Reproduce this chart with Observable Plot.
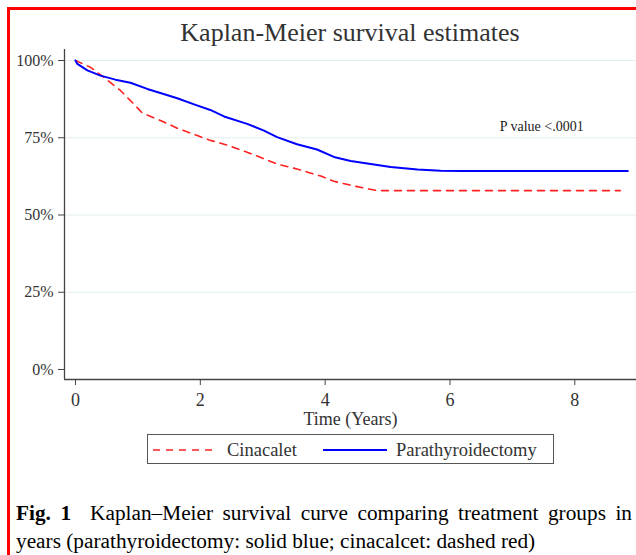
<!DOCTYPE html>
<html>
<head>
<meta charset="utf-8">
<script src="https://cdn.jsdelivr.net/npm/d3@7"></script>
<script src="https://cdn.jsdelivr.net/npm/@observablehq/plot@0.6"></script>
<style>
  html, body { margin: 0; padding: 0; background: #fff; overflow: hidden; width: 636px; height: 555px; }
  #border { position: absolute; left: 7px; top: 7px; width: 700px; height: 620px; border: 3px solid #ff0000; box-sizing: border-box; }
  #chart { position: absolute; left: 0; top: 0; }
  #title { position: absolute; left: 64px; width: 572px; top: 18px; text-align: center; font-family: "Liberation Serif", serif; font-size: 26px; line-height: 30px; color: #333; white-space: nowrap; }
  #legend { position: absolute; left: 147px; top: 434px; width: 407px; height: 30px; border: 1px solid #555; box-sizing: border-box; background: #fff; }
  #legend svg { display: block; }
  #caption { position: absolute; left: 16px; top: 499px; font-family: "Liberation Serif", serif; font-size: 21.3px; line-height: 28px; color: #000; white-space: nowrap; }
  #caption .l1 { display: block; width: 616px; text-align: justify; text-align-last: justify; }
  #caption .l2 { display: block; }
</style>
</head>
<body>
<div id="border"></div>
<div id="chart"></div>
<div id="title"></div>
<div id="legend"></div>
<div id="caption"><span class="l1"><b>Fig. 1</b>&nbsp;&nbsp;Kaplan–Meier survival curve comparing treatment groups in</span><span class="l2">years (parathyroidectomy: solid blue; cinacalcet: dashed red)</span></div>
<script>
// ---- data ----
const titleText = "Kaplan-Meier survival estimates";
const xLabel = "Time (Years)";
const seriesNames = ["Cinacalet", "Parathyroidectomy"];
const seriesColors = ["#ff2020", "#0000ff"];
const xTicks = [0, 2, 4, 6, 8];
const yTicks = [0, 0.25, 0.5, 0.75, 1];
const gridTicks = [0.25, 0.5, 0.75, 1];
const pValueText = "P value <.0001";
const pValuePos = [7.47, 0.786];

// Parathyroidectomy (solid blue)
const ptxTime = [0, 0.03, 0.19, 0.4, 0.64, 0.88, 1.15, 1.36, 1.63, 1.9, 2.16, 2.38, 2.75, 3.02, 3.23, 3.55, 3.87, 4.14, 4.41, 4.89, 5.05, 5.48, 5.85, 6.2, 8.85];
const ptxSurv = [1.0, 0.989, 0.968, 0.951, 0.938, 0.928, 0.908, 0.895, 0.878, 0.858, 0.840, 0.819, 0.795, 0.773, 0.752, 0.729, 0.712, 0.688, 0.675, 0.660, 0.655, 0.647, 0.643, 0.642, 0.642];

// Cinacalet (dashed red)
const cinTime = [0, 0.24, 0.45, 0.72, 0.93, 1.07, 1.36, 1.63, 2.14, 2.45, 2.75, 2.86, 3.23, 3.55, 3.93, 4.14, 4.46, 4.83, 8.73];
const cinSurv = [1.0, 0.978, 0.946, 0.903, 0.86, 0.83, 0.806, 0.781, 0.743, 0.725, 0.703, 0.695, 0.665, 0.649, 0.626, 0.609, 0.594, 0.579, 0.579];

const ptx = ptxTime.map((t, i) => ({t, s: ptxSurv[i]}));
const cin = cinTime.map((t, i) => ({t, s: cinSurv[i]}));

document.getElementById("title").textContent = titleText;

const chart = Plot.plot({
  width: 636,
  height: 430,
  marginTop: 49,
  marginBottom: 51,
  marginLeft: 64,
  marginRight: 0,
  style: { fontFamily: "Liberation Serif, serif", color: "#333", background: "transparent", overflow: "visible" },
  x: { domain: [0, 8], range: [75, 574.3] },
  y: { domain: [0, 1], range: [369, 60] },
  marks: [
    Plot.gridY(gridTicks, { stroke: "#e3eef1", strokeOpacity: 1, strokeWidth: 1.2 }),
    Plot.ruleY([0], { dy: 10, stroke: "#444", strokeWidth: 1.3 }),
    Plot.ruleX([0], { dx: -11, stroke: "#444", strokeWidth: 1.3 }),
    Plot.axisY(yTicks, { tickFormat: d3.format(".0%"), tickSize: 6, tickPadding: 5, fontSize: 16, label: null, stroke: "#444" }),
    Plot.axisX(xTicks, { tickSize: 6, tickPadding: 8, fontSize: 18, label: null, stroke: "#444" }),
    Plot.text([xLabel], { frameAnchor: "bottom", dy: 45, fontSize: 18, fill: "#333" }),
    Plot.line(cin, { x: "t", y: "s", stroke: seriesColors[0], strokeWidth: 1.6, strokeDasharray: "7,6" }),
    Plot.line(ptx, { x: "t", y: "s", stroke: seriesColors[1], strokeWidth: 2 }),
    Plot.text([pValueText], { x: () => pValuePos[0], y: () => pValuePos[1], fontSize: 14, fill: "#222" })
  ]
});
document.getElementById("chart").appendChild(chart);

// legend
const lg = d3.select("#legend").append("svg").attr("width", 405).attr("height", 28)
  .style("font-family", "Liberation Serif, serif");
const items = [
  { name: seriesNames[0], color: seriesColors[0], dash: "7,6", w: 1.6, x0: 5, tx: 79 },
  { name: seriesNames[1], color: seriesColors[1], dash: null, w: 2, x0: 175, tx: 248 }
];
items.forEach(it => {
  lg.append("line").attr("x1", it.x0).attr("x2", it.x0 + 64).attr("y1", 15).attr("y2", 15)
    .attr("stroke", it.color).attr("stroke-width", it.w).attr("stroke-dasharray", it.dash);
  lg.append("text").attr("x", it.tx).attr("y", 15).attr("dy", "0.35em")
    .attr("font-size", 18.5).attr("fill", "#333").text(it.name);
});
</script>
</body>
</html>
